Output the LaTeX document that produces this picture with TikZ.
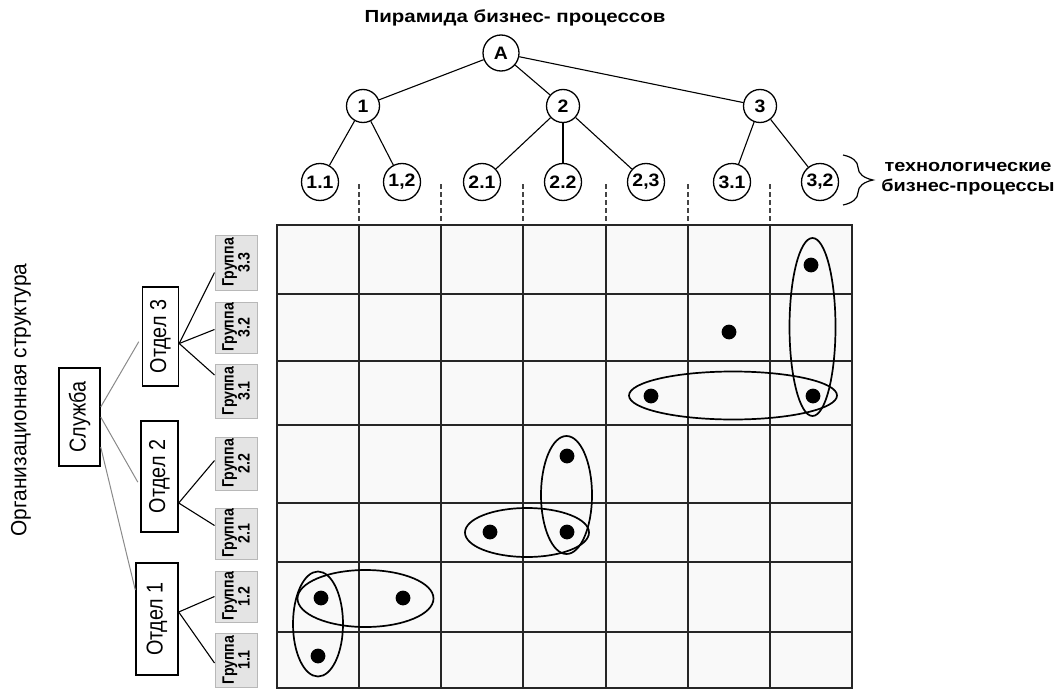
\documentclass[tikz,border=0pt]{standalone}
\usepackage{fontspec}
\setmainfont{Liberation Sans}
\newfontfamily\hfont[FakeStretch=1.17]{Liberation Sans}
\newfontfamily\cfont[FakeStretch=1.08]{Liberation Sans}
\newfontfamily\vfont[FakeStretch=0.95]{Liberation Sans}
\newfontfamily\ofont[FakeStretch=0.86]{Liberation Sans}
\newfontfamily\gfont[FakeStretch=0.86]{Liberation Sans}
\usetikzlibrary{decorations.pathreplacing}
\definecolor{gridbg}{HTML}{F9F9F9}
\definecolor{gridln}{HTML}{262626}
\definecolor{dashcol}{HTML}{444444}
\definecolor{grpfill}{HTML}{E4E4E4}
\definecolor{grpdraw}{HTML}{B8B8B8}
\definecolor{orgln}{HTML}{8A8A8A}
\begin{document}
\begin{tikzpicture}[x=1pt,y=-1pt,
  proc/.style={circle, draw, line width=1.3pt, fill=white, inner sep=0pt,
    font=\cfont\bfseries\fontsize{18}{18}\selectfont},
  lvlA/.style={proc, minimum size=36pt},
  lvlB/.style={proc, minimum size=33pt},
  lvlC/.style={proc, minimum size=37pt},
  tree/.style={line width=1.1pt},
  orgbox/.style={draw, line width=1.4pt, fill=white, rotate=90, inner sep=0pt,
    font=\ofont\fontsize{23}{23}\selectfont},
  grpbox/.style={draw=grpdraw, fill=grpfill, line width=1pt, rotate=90, inner sep=0pt,
    align=center, minimum height=42pt,
    font=\gfont\bfseries\fontsize{16.5}{14}\selectfont},
  orgline/.style={draw=orgln, line width=1pt},
  grpline/.style={line width=1.1pt},
  gline/.style={draw=gridln, line width=1.4pt},
  dashln/.style={draw=dashcol, line width=1.3pt, dash pattern=on 4.5pt off 3.5pt},
  oval/.style={line width=1.7pt},
  dotmark/.style={fill=black}
]
\useasboundingbox (0,0) rectangle (1064,690);

% ---- title
\node[font=\hfont\bfseries\fontsize{17.5}{17.5}\selectfont] (title) at (515,18) {Пирамида бизнес- процессов};

% ---- pyramid
\node[lvlA] (A) at (501,53) {A};
\node[lvlB] (p1) at (363,106) {1};
\node[lvlB] (p2) at (563,106) {2};
\node[lvlB] (p3) at (760,106) {3};
\node[lvlC] (p11) at (320,182) {1.1};
\node[lvlC] (p12) at (402,182) {1,2};
\node[lvlC] (p21) at (482,182) {2.1};
\node[lvlC] (p22) at (563,182) {2.2};
\node[lvlC] (p23) at (646,182) {2,3};
\node[lvlC] (p31) at (732,182) {3.1};
\node[lvlC] (p32) at (820,182) {3,2};
\draw[tree] (A) -- (p1);
\draw[tree] (A) -- (p2);
\draw[tree] (A) -- (p3);
\draw[tree] (p1) -- (p11);
\draw[tree] (p1) -- (p12);
\draw[tree] (p2) -- (p21);
\draw[tree] (p2) -- (p22);
\draw[tree] (p2) -- (p23);
\draw[tree] (p3) -- (p31);
\draw[tree] (p3) -- (p32);

% ---- brace + label
\draw[line width=1.2pt, decorate, decoration={brace, amplitude=30pt, aspect=0.5}] (843,155) -- (843,205);
\node[font=\hfont\bfseries\fontsize{17}{20}\selectfont, align=center] (tech) at (968,179) {технологические\\бизнес-процессы};

% ---- grid
\fill[gridbg] (277,225) rectangle (852,688);
\foreach \x in {359,441,523,606,688,770}{
  \draw[dashln] (\x,184) -- (\x,225);
  \draw[gline] (\x,225) -- (\x,688);
}
\foreach \y in {294,361,425,503,562,632}{
  \draw[gline] (277,\y) -- (852,\y);
}
\draw[gline] (277,225) rectangle (852,688);

% ---- dots
\foreach \p in {(811,265),(729,332),(651,396),(813,396),(567,456),(490,532),(567,532),(321,598),(403,598),(318,656)}{
  \fill[dotmark] \p circle (7.4pt);
}

% ---- ovals
\draw[oval] (812.5,327) ellipse (23pt and 89pt);
\draw[oval] (733,395.5) ellipse (104pt and 24pt);
\draw[oval] (566.5,495) ellipse (25.5pt and 59pt);
\draw[oval] (527,532.5) ellipse (62pt and 24.5pt);
\draw[oval] (365.5,598.5) ellipse (68pt and 28.5pt);
\draw[oval] (318,624) ellipse (25pt and 52.5pt);

% ---- org structure label
\node[rotate=90, font=\vfont\fontsize{22}{22}\selectfont] (orglbl) at (21,400) {Организационная структура};

% ---- org boxes
\node[orgbox, minimum width=98pt, minimum height=41pt] (sl) at (79.5,417) {Служба};
\node[orgbox, minimum width=99pt, minimum height=36pt] (od3) at (160.5,336.5) {Отдел 3};
\node[orgbox, minimum width=111pt, minimum height=37pt] (od2) at (159.5,476.5) {Отдел 2};
\node[orgbox, minimum width=112pt, minimum height=42pt] (od1) at (157,619) {Отдел 1};

\node[grpbox, minimum width=55pt] (g33) at (236,262.5) {Группа\\3.3};
\node[grpbox, minimum width=51pt] (g32) at (236,327.5) {Группа\\3.2};
\node[grpbox, minimum width=54pt] (g31) at (236,391) {Группа\\3.1};
\node[grpbox, minimum width=53pt] (g22) at (236,463.5) {Группа\\2.2};
\node[grpbox, minimum width=51pt] (g21) at (236,533.5) {Группа\\2.1};
\node[grpbox, minimum width=51pt] (g12) at (236,596.5) {Группа\\1.2};
\node[grpbox, minimum width=54pt] (g11) at (236,660) {Группа\\1.1};

% ---- org connectors
\draw[orgline, shorten >=6pt] ([yshift=10pt]sl.south) -- (od3.north);
\draw[orgline, shorten >=5pt] (sl.south) -- ([yshift=-10pt]od2.north);
\draw[orgline] ([yshift=-30pt]sl.south) -- ([yshift=29pt]od1.north);

\draw[grpline] ([yshift=-7pt]od3.south) -- ([yshift=-10pt]g33.north);
\draw[grpline] ([yshift=-7pt]od3.south) -- ([yshift=-2pt]g32.north);
\draw[grpline] ([yshift=-7pt]od3.south) -- ([yshift=16pt]g31.north);
\draw[grpline] ([yshift=-26.5pt]od2.south) -- ([yshift=3pt]g22.north);
\draw[grpline] ([yshift=-26.5pt]od2.south) -- ([yshift=8pt]g21.north);
\draw[grpline] ([yshift=7pt]od1.south) -- (g12.north);
\draw[grpline] ([yshift=7pt]od1.south) -- ([yshift=-3pt]g11.north);
\end{tikzpicture}
\end{document}
